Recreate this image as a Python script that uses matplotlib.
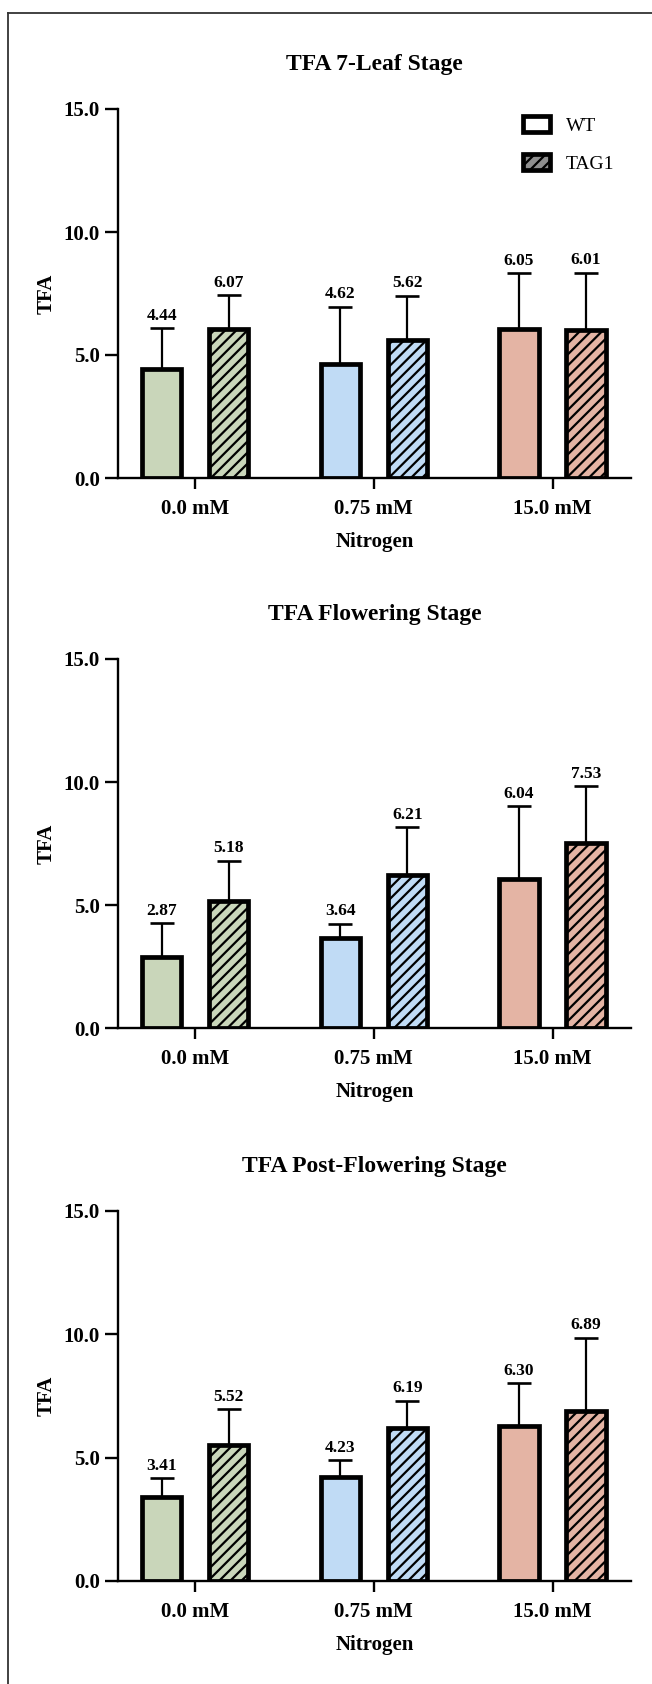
import matplotlib
matplotlib.use("Agg")
import matplotlib.pyplot as plt
from matplotlib.patches import Patch
from matplotlib.lines import Line2D
import numpy as np

# ---- data ----
groups = ["0.0 mM", "0.75 mM", "15.0 mM"]
series = ["WT", "TAG1"]
stages = ["TFA 7-Leaf Stage", "TFA Flowering Stage", "TFA Post-Flowering Stage"]

wt_leaf7 = [4.44, 4.62, 6.05]
tag1_leaf7 = [6.07, 5.62, 6.01]
wt_leaf7_err = [1.65, 2.35, 2.27]
tag1_leaf7_err = [1.35, 1.78, 2.34]

wt_flower = [2.87, 3.64, 6.04]
tag1_flower = [5.18, 6.21, 7.53]
wt_flower_err = [1.39, 0.59, 2.98]
tag1_flower_err = [1.62, 1.96, 2.30]

wt_post = [3.41, 4.23, 6.30]
tag1_post = [5.52, 6.19, 6.89]
wt_post_err = [0.75, 0.66, 1.72]
tag1_post_err = [1.45, 1.11, 2.98]

yticks = [0.0, 5.0, 10.0, 15.0]
group_colors = ["#c9d6ba", "#c0dbf5", "#e4b4a4"]

# ---- style ----
plt.rcParams["font.family"] = ["Liberation Serif", "DejaVu Serif"]
plt.rcParams["hatch.linewidth"] = 1.6

W, H = 652, 1684
fig = plt.figure(figsize=(W / 100, H / 100), dpi=100)

# outer frame (top and left edges)
fig.add_artist(Line2D([7.5 / W, 1.0], [1 - 13 / H, 1 - 13 / H], color="#333333", lw=1.3))
fig.add_artist(Line2D([7.5 / W, 7.5 / W], [1 - 13 / H, 0.0], color="#333333", lw=1.3))

panels = [
    (stages[0], wt_leaf7, tag1_leaf7, wt_leaf7_err, tag1_leaf7_err, (109, 478)),
    (stages[1], wt_flower, tag1_flower, wt_flower_err, tag1_flower_err, (659, 1028)),
    (stages[2], wt_post, tag1_post, wt_post_err, tag1_post_err, (1211, 1581)),
]

x = np.arange(len(groups))
offset = 0.1875
bar_w = 0.22
edge_lw = 3.4
ax_left, ax_w = 118, 513

for i, (title, wt, tag, wt_e, tag_e, (top, bot)) in enumerate(panels):
    ax_h = bot - top
    ax = fig.add_axes([ax_left / W, 1 - bot / H, ax_w / W, ax_h / H])
    ax.set_xlim(-0.432, 2.439)
    ax.set_ylim(0, 15)

    for xs, vals, errs, hatch in [(x - offset, wt, wt_e, None), (x + offset, tag, tag_e, "///")]:
        ax.errorbar(xs, vals, yerr=[np.zeros(len(vals)), errs], fmt="none",
                    ecolor="black", elinewidth=1.6, capsize=8.8, capthick=1.9, zorder=1,
                    clip_on=False)
        ax.bar(xs, vals, width=bar_w, color=group_colors, edgecolor="black",
               linewidth=edge_lw, hatch=hatch, zorder=2)
        for xi, v, e in zip(xs, vals, errs):
            ax.annotate(f"{v:.2f}", (xi, v + e), xytext=(0, 8.5), textcoords="offset pixels",
                        ha="center", va="baseline", fontsize=12.5, fontweight="bold")

    for side in ["top", "right"]:
        ax.spines[side].set_visible(False)
    for side in ["left", "bottom"]:
        ax.spines[side].set_linewidth(1.7)

    ax.set_yticks(yticks)
    ax.set_yticklabels([f"{t:.1f}" for t in yticks], fontsize=15, fontweight="bold")
    ax.tick_params(axis="y", length=9.5, width=1.7, pad=3.5)
    ax.set_xticks(x)
    ax.set_xticklabels(groups, fontsize=15, fontweight="bold")
    # tick label baselines sit 36 px under the axis line
    ax.tick_params(axis="x", length=7.6, width=1.7, pad=36.3 * 0.72 - 7.6)
    for lab in ax.get_xticklabels():
        lab.set_verticalalignment("baseline")

    ax.set_ylabel("TFA", fontsize=15, fontweight="bold", va="center")
    ax.yaxis.set_label_coords((46.7 - ax_left) / ax_w, 0.5)
    ax.set_xlabel("Nitrogen", fontsize=15, fontweight="bold", va="baseline")
    ax.xaxis.set_label_coords(0.5, -68.7 / ax_h)
    ax.set_title(title, fontsize=17, fontweight="bold", pad=28)

    if i == 0:
        handles = [
            Patch(facecolor="white", edgecolor="black", linewidth=edge_lw, label=series[0]),
            Patch(facecolor="#8f8f8f", edgecolor="black", linewidth=edge_lw, hatch="///",
                  label=series[1]),
        ]
        ax.legend(handles=handles, loc="upper left", bbox_to_anchor=(0.79, 0.981),
                  frameon=False, fontsize=14, handlelength=1.4, handleheight=0.9,
                  handletextpad=0.8, labelspacing=1.0, borderpad=0, borderaxespad=0)

fig.savefig("out.png", dpi=100)
